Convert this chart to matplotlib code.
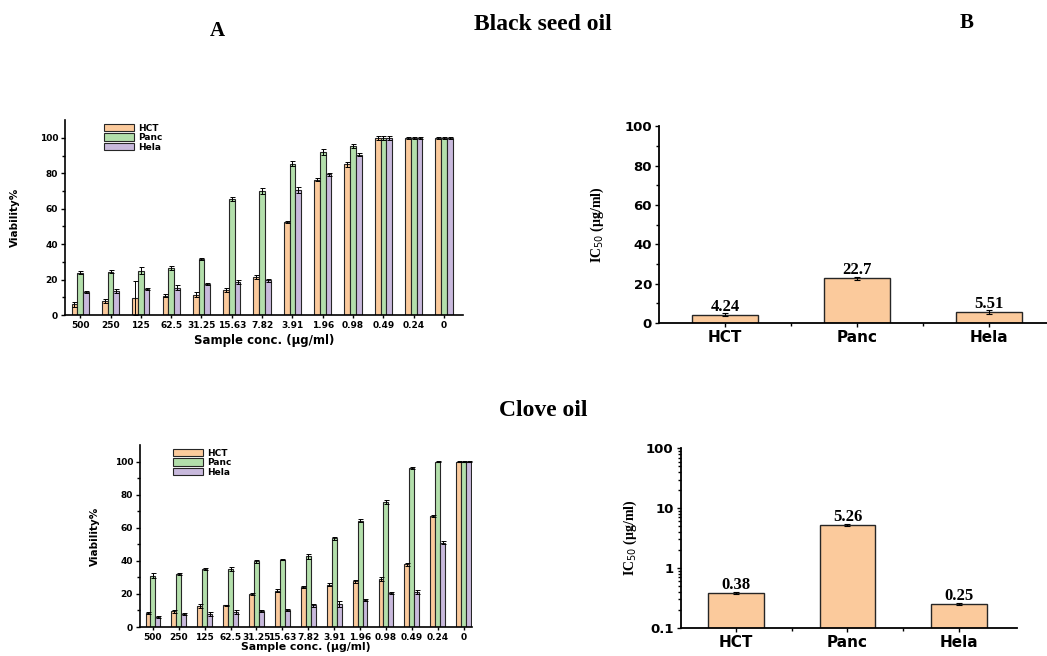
import numpy as np
import matplotlib.pyplot as plt
from matplotlib.ticker import MultipleLocator, FixedLocator, FixedFormatter

# concentrations (x tick labels) and cell lines
conc_labels = ['500', '250', '125', '62.5', '31.25', '15.63', '7.82', '3.91',
               '1.96', '0.98', '0.49', '0.24', '0']
cells = ['HCT', 'Panc', 'Hela']

# Black seed oil viability %
bs_hct = [6, 8, 9.5, 11, 11.5, 14, 21.5, 52.5, 76.5, 85, 100, 100, 100]
bs_panc = [24, 24.5, 25, 26.5, 31.5, 65.5, 70, 85.5, 92, 95.5, 100, 100, 100]
bs_hela = [13, 13.5, 14.5, 15.5, 17.5, 18.5, 19.5, 70.5, 79.5, 90.5, 100, 100, 100]
bs_hct_err = [1.5, 1, 9.5, 0.8, 1.5, 1, 1.2, 0.6, 0.8, 1.2, 1, 0.5, 0.5]
bs_panc_err = [1, 0.8, 2, 1, 0.6, 1, 1.5, 1.2, 1.8, 1, 1, 0.5, 0.5]
bs_hela_err = [0.8, 1.2, 0.6, 1.2, 0.8, 1, 1, 1.5, 0.8, 0.8, 1, 0.5, 0.5]

# Clove oil viability %
cl_hct = [8.5, 9.5, 12.5, 13, 20, 22, 24, 25.5, 27.7, 29.3, 37.8, 67, 100]
cl_panc = [31, 32, 35, 35, 39.6, 40.8, 42.8, 53.7, 64.2, 75.6, 96.2, 100, 100]
cl_hela = [5.9, 7.9, 8, 9, 9.7, 10.3, 13, 14, 16.2, 20.6, 21.2, 51, 100]
cl_hct_err = [0.5, 0.8, 1.2, 0.5, 0.5, 0.8, 0.6, 0.8, 1, 1.2, 0.8, 0.6, 0.5]
cl_panc_err = [1.5, 0.5, 0.8, 1.2, 1, 0.5, 1.5, 1, 0.8, 1.2, 0.6, 0.5, 0.5]
cl_hela_err = [0.5, 0.8, 1.2, 1, 0.6, 0.8, 1, 2, 0.5, 0.8, 1.2, 0.8, 0.5]

# IC50 values (ug/ml)
bs_ic50 = [4.24, 22.7, 5.51]
bs_ic50_err = [0.8, 0.8, 0.9]
cl_ic50 = [0.38, 5.26, 0.25]
cl_ic50_err = [0.015, 0.2, 0.01]

colors = ['#fbca9c', '#b3dfab', '#c8b9dc']
edge = '#262626'
sans = 'DejaVu Sans'
serif = 'Liberation Serif'

fig = plt.figure(figsize=(10.47, 6.56), dpi=100)


def viability_plot(rect, hct, panc, hela, errs, xmax, lab_x, xlab_y, xlab_size):
    ax = fig.add_axes(rect)
    x = np.arange(len(conc_labels))
    w = 0.19
    for i, (vals, err) in enumerate(zip([hct, panc, hela], errs)):
        ax.bar(x + (i - 1) * w, vals, w, color=colors[i], edgecolor=edge,
               linewidth=0.8, label=cells[i],
               yerr=err, capsize=1.8, error_kw=dict(elinewidth=0.7, capthick=0.7, ecolor='black'))
    ax.set_xlim(-0.5, xmax)
    ax.set_ylim(0, 110)
    ax.set_yticks([0, 20, 40, 60, 80, 100])
    ax.yaxis.set_minor_locator(FixedLocator([10, 30, 50, 70, 90]))
    ax.set_xticks(x)
    ax.set_xticklabels(conc_labels)
    for s in ['top', 'right']:
        ax.spines[s].set_visible(False)
    for s in ['left', 'bottom']:
        ax.spines[s].set_linewidth(1.2)
    ax.tick_params(axis='both', labelsize=6.5, width=1, length=3, pad=2)
    ax.tick_params(axis='y', which='minor', length=2, width=1)
    ax.tick_params(axis='x', length=2)
    for t in ax.get_xticklabels() + ax.get_yticklabels():
        t.set_fontweight('bold')
        t.set_family(sans)
    ax.set_xlabel('Sample conc. (µg/ml)', fontsize=xlab_size, fontweight='bold', family=sans)
    ax.set_ylabel('Viability%', fontsize=7.5, fontweight='bold', family=sans, va='center')
    ax.yaxis.set_label_coords(lab_x, 0.5)
    ax.xaxis.set_label_coords(0.5, xlab_y)
    ax.legend(loc='upper left', bbox_to_anchor=(0.09, 1.0), frameon=False,
              prop=dict(family=sans, weight='bold', size=6.5),
              handlelength=3.3, handleheight=0.9, labelspacing=0.05,
              handletextpad=0.4, borderaxespad=0)
    return ax


def ic50_plot(rect, vals, err, log, xmax, lab_x):
    ax = fig.add_axes(rect)
    x = np.arange(len(cells))
    ax.bar(x, vals, 0.5, color=colors[0], edgecolor=edge, linewidth=1,
           yerr=err, capsize=2.5, error_kw=dict(elinewidth=0.8, capthick=0.8, ecolor='black'))
    for xi, v in zip(x, vals):
        ax.annotate(f'{v:g}', (xi, v), xytext=(0, 0), textcoords='offset points',
                    ha='center', va='bottom', fontsize=12, fontweight='bold', family=serif)
    ax.set_xlim(-0.5, xmax)
    if log:
        ax.set_yscale('log')
        ax.set_ylim(0.1, 100)
        ax.yaxis.set_major_locator(FixedLocator([0.1, 1, 10, 100]))
        ax.yaxis.set_major_formatter(FixedFormatter(['0.1', '1', '10', '100']))
    else:
        ax.set_ylim(0, 100)
        ax.yaxis.set_major_locator(MultipleLocator(20))
        ax.yaxis.set_minor_locator(MultipleLocator(10))
    ax.set_xticks(x)
    ax.set_xticklabels(cells)
    ax.xaxis.set_minor_locator(FixedLocator([0.5, 1.5]))
    for s in ['top', 'right']:
        ax.spines[s].set_visible(False)
    for s in ['left', 'bottom']:
        ax.spines[s].set_linewidth(1.3)
    ax.tick_params(axis='y', labelsize=9.5, width=1, length=3, pad=2)
    ax.tick_params(axis='x', labelsize=11, width=1, length=3, pad=2)
    ax.tick_params(which='minor', length=2, width=1)
    for t in ax.get_xticklabels() + ax.get_yticklabels():
        t.set_fontweight('bold')
        t.set_family(sans)
    ax.set_ylabel('IC$_{50}$ (µg/ml)', fontsize=10, fontweight='bold', family=serif, va='center')
    ax.yaxis.set_label_coords(lab_x, 0.5)
    return ax


viability_plot([0.0621, 0.5198, 0.380, 0.297], bs_hct, bs_panc, bs_hela,
               [bs_hct_err, bs_panc_err, bs_hela_err], 12.62, -0.126, -0.1, 8.5)
viability_plot([0.1337, 0.0442, 0.317, 0.2774], cl_hct, cl_panc, cl_hela,
               [cl_hct_err, cl_panc_err, cl_hela_err], 12.32, -0.136, -0.085, 7.8)
ic50_plot([0.6294, 0.5076, 0.3706, 0.300], bs_ic50, bs_ic50_err, False, 2.44, -0.16)
ic50_plot([0.650, 0.0427, 0.321, 0.274], cl_ic50, cl_ic50_err, True, 2.52, -0.15)

fig.text(217 / 1047, 1 - 31 / 656, 'A', ha='center', va='center', fontsize=15,
         fontweight='bold', family=serif)
fig.text(543 / 1047, 1 - 24 / 656, 'Black seed oil', ha='center', va='center', fontsize=17,
         fontweight='bold', family=serif)
fig.text(967 / 1047, 1 - 23 / 656, 'B', ha='center', va='center', fontsize=15,
         fontweight='bold', family=serif)
fig.text(543 / 1047, 1 - 410 / 656, 'Clove oil', ha='center', va='center', fontsize=17,
         fontweight='bold', family=serif)

plt.savefig('out.png', dpi=100)
